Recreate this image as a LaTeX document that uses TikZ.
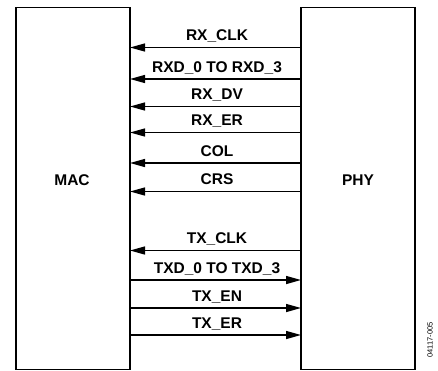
\documentclass[tikz,border=0pt]{standalone}
\usepackage{fontspec}
\setmainfont{Liberation Sans}
\usetikzlibrary{arrows.meta}
\begin{document}
\begin{tikzpicture}[x=1pt,y=-1pt,
  blockbox/.style={draw=black,line width=1.4pt,rectangle,inner sep=0pt,outer sep=0pt},
  blocktext/.style={font=\fontsize{15.5}{17}\selectfont\bfseries,inner sep=0pt},
  siglabel/.style={font=\fontsize{15.5}{17}\selectfont\bfseries,inner sep=0pt,anchor=base},
  sig/.style={line width=1.4pt,-{Triangle[length=15pt,width=8pt]}},
  code/.style={font=\fontsize{7.5}{8}\selectfont,rotate=90,inner sep=0pt}]
\useasboundingbox (0,0) rectangle (438,370);
\node[blockbox,minimum width=114pt,minimum height=362pt] (MAC) at (73,188.5) {};
\node[blockbox,minimum width=114pt,minimum height=362pt] (PHY) at (358,188.5) {};
\node[blocktext] (mactext) at (72,180) {MAC};
\node[blocktext] (phytext) at (358,180) {PHY};
% RX side: PHY -> MAC
\foreach \y/\t/\n in {47.5/RX\_CLK/a, 79/RXD\_0 TO RXD\_3/b, 106.5/RX\_DV/c, 132.5/RX\_ER/d, 163/COL/e, 191.5/CRS/f, 250.5/TX\_CLK/g}{
  \coordinate (p\n) at (PHY.west |- 0,\y);
  \coordinate (m\n) at (MAC.east |- 0,\y);
  \draw[sig] (p\n) -- (m\n);
  \node[siglabel] (l\n) at (217,\y-7) {\t};
}
% TX side: MAC -> PHY
\foreach \y/\t/\n in {280/TXD\_0 TO TXD\_3/h, 308/TX\_EN/i, 335/TX\_ER/j}{
  \coordinate (m\n) at (MAC.east |- 0,\y);
  \coordinate (p\n) at (PHY.west |- 0,\y);
  \draw[sig] (m\n) -- (p\n);
  \node[siglabel] (l\n) at (217,\y-7) {\t};
}
\node[code] (figcode) at (430,340) {04117-005};
\end{tikzpicture}
\end{document}
